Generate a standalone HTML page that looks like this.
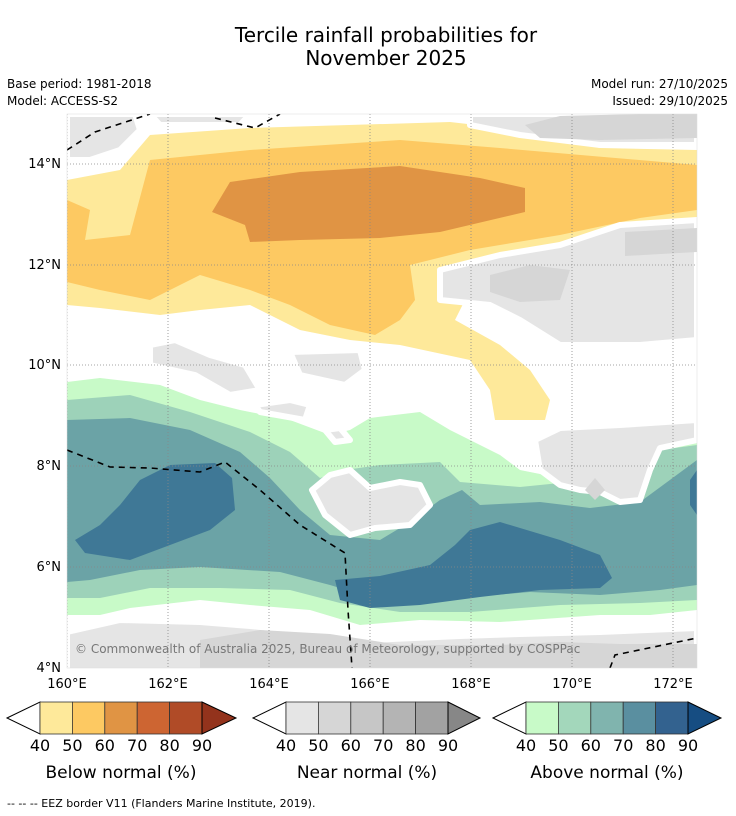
<!DOCTYPE html>
<html><head><meta charset="utf-8"><style>
body{margin:0;background:#fff;font-family:"Liberation Sans","DejaVu Sans",sans-serif}
svg{display:block}
</style></head><body>
<svg width="736" height="816" viewBox="0 0 736 816" xmlns="http://www.w3.org/2000/svg" font-family="DejaVu Sans, Liberation Sans, sans-serif">
<rect width="736" height="816" fill="#fff"/>
<text x="386" y="42" font-size="20" text-anchor="middle">Tercile rainfall probabilities for</text>
<text x="386" y="65" font-size="20" text-anchor="middle">November 2025</text>
<text x="7" y="88" font-size="12">Base period: 1981-2018</text>
<text x="7" y="105" font-size="12">Model: ACCESS-S2</text>
<text x="728" y="88" font-size="12" text-anchor="end">Model run: 27/10/2025</text>
<text x="728" y="105" font-size="12" text-anchor="end">Issued: 29/10/2025</text>
<defs><clipPath id="pc"><rect x="67" y="114" width="630" height="554"/></clipPath></defs>
<g clip-path="url(#pc)">
<!-- below normal -->
<polygon fill="#fee99a" points="67,180 120,170 150,135 250,128 450,122 520,130 600,148 697,150 697,222 640,240 600,252 560,262 510,270 470,290 455,320 500,345 530,370 550,400 545,420 495,420 490,390 470,360 400,345 350,340 300,330 250,305 200,310 160,315 100,308 67,305"/>
<polygon fill="#fdc962" points="67,200 90,210 85,240 130,235 150,160 250,150 400,140 500,148 697,165 697,210 640,218 560,235 470,250 410,265 415,300 400,320 375,335 330,325 290,305 250,290 200,275 150,300 100,290 67,282"/>
<polygon fill="#e09444" points="212,212 230,182 300,172 400,166 480,178 525,188 525,212 440,232 380,238 300,240 250,242 245,225"/>
<polygon fill="#fee99a" points="78,664 200,664 200,668 78,668"/>
<polygon fill="#fdc962" points="697,650 697,668 680,668"/>
<!-- above normal -->
<polygon fill="#c8fac8" points="67,382 100,378 160,385 200,400 240,410 290,420 330,435 350,430 370,418 420,412 450,430 470,440 500,455 520,470 560,478 620,470 640,450 697,440 697,610 650,615 600,615 500,622 420,620 360,625 310,610 250,605 200,600 130,608 100,615 67,615"/>
<polygon fill="#9dd2b9" points="67,400 130,395 190,412 250,432 290,452 320,478 345,470 380,465 440,462 460,482 520,487 570,482 620,475 660,450 697,445 697,600 640,603 560,605 470,612 400,612 340,603 290,590 220,588 150,588 100,598 67,598"/>
<polygon fill="#6ba3a6" points="67,420 130,418 190,430 240,452 270,478 300,510 330,535 380,540 410,522 440,500 462,490 480,505 540,502 590,508 640,502 697,460 697,585 660,590 600,595 530,592 460,598 380,600 330,585 280,572 200,567 140,570 90,580 67,582"/>
<polygon fill="#3f7896" points="75,540 100,525 120,505 140,480 170,465 215,463 232,478 235,510 210,530 170,545 130,560 85,553"/>
<polygon fill="#3f7896" points="335,580 380,576 430,565 455,545 470,530 500,522 560,540 600,555 612,578 600,588 540,590 480,597 420,605 370,608 340,600"/>
<polygon fill="#3f7896" points="690,480 697,470 697,515 690,505"/>
<!-- near normal -->
<g fill="#e5e5e5" stroke="#fff" stroke-width="6" stroke-linejoin="round">
<polygon points="67,114 135,114 140,130 120,150 90,160 67,160"/>
<polygon points="150,114 250,114 240,125 160,125"/>
<polygon points="470,114 697,114 697,145 600,145 520,135 470,125"/>
<polygon points="440,270 500,255 560,245 620,225 697,220 697,340 640,345 560,345 520,320 490,305 440,300"/>
<polygon points="150,345 175,340 210,355 245,365 260,390 230,395 195,375 150,365"/>
<polygon points="290,352 360,350 365,370 345,385 300,375"/>
<polygon points="255,405 290,400 310,405 305,420 260,412"/>
<polygon points="325,430 340,428 350,440 335,442"/>
<polygon points="312,490 330,475 350,470 370,488 400,482 420,485 430,505 410,525 375,528 350,535 325,515"/>
<polygon points="535,440 560,428 620,425 697,420 697,440 660,448 650,470 640,500 620,502 600,492 580,490 560,485 540,470"/>
<polygon points="67,632 120,620 200,622 250,626 310,632 370,640 460,636 520,634 600,632 697,628 697,672 67,672"/>
</g>
<g fill="#d6d6d6">
<polygon points="525,125 560,116 640,114 697,114 697,138 600,140 540,138"/>
<polygon points="625,232 697,228 697,252 625,256"/>
<polygon points="490,275 530,265 570,270 560,300 520,302 490,292"/>
<polygon points="585,490 595,478 605,490 595,500"/>
<polygon points="200,640 260,630 330,634 400,645 500,645 560,642 620,644 697,644 697,668 200,668"/>
</g>
<!-- grid -->
<g stroke="#888" stroke-width="0.8" stroke-dasharray="1,2">
<line x1="67" y1="114" x2="67" y2="668"/><line x1="168" y1="114" x2="168" y2="668"/><line x1="269" y1="114" x2="269" y2="668"/><line x1="370" y1="114" x2="370" y2="668"/><line x1="471" y1="114" x2="471" y2="668"/><line x1="572" y1="114" x2="572" y2="668"/><line x1="673" y1="114" x2="673" y2="668"/>
<line x1="67" y1="164" x2="697" y2="164"/><line x1="67" y1="265" x2="697" y2="265"/><line x1="67" y1="365" x2="697" y2="365"/><line x1="67" y1="466" x2="697" y2="466"/><line x1="67" y1="567" x2="697" y2="567"/>
</g>
<!-- EEZ -->
<g fill="none" stroke="#000" stroke-width="1.6" stroke-dasharray="6,5">
<polyline points="67,150 95,132 150,114"/>
<polyline points="215,118 255,128 280,114"/>
<polyline points="67,450 110,467 150,468 200,472 225,462 260,490 300,525 345,553 348,610 352,668"/>
<polyline points="610,668 615,655 697,638"/>
</g>
<text x="75" y="653" font-size="12" fill="#777">© Commonwealth of Australia 2025, Bureau of Meteorology, supported by COSPPac</text>
</g>
<rect x="67" y="114" width="630" height="554" fill="none" stroke="#ddd" stroke-width="0.5"/>
<g font-size="13" text-anchor="end">
<text x="61" y="168">14°N</text><text x="61" y="269">12°N</text><text x="61" y="369">10°N</text><text x="61" y="470">8°N</text><text x="61" y="571">6°N</text><text x="61" y="672">4°N</text>
</g>
<g font-size="13" text-anchor="middle">
<text x="67" y="688">160°E</text><text x="168" y="688">162°E</text><text x="269" y="688">164°E</text><text x="370" y="688">166°E</text><text x="471" y="688">168°E</text><text x="572" y="688">170°E</text><text x="673" y="688">172°E</text>
</g>
<script>
const levels=["40","50","60","70","80","90"];
const belowColors=["#fee99a","#fdc962","#e09444","#cd6532","#b04b27","#93331c"];
const nearColors=["#e5e5e5","#d6d6d6","#c6c6c6","#b4b4b4","#a2a2a2","#878787"];
const aboveColors=["#c8fac8","#a3d7bb","#80b4ae","#5a8fa0","#33628f","#164d82"];
const titles=["Below normal (%)","Near normal (%)","Above normal (%)"];
const svg=document.querySelector('svg');
const NS='http://www.w3.org/2000/svg';
const bars=[[7,40,202,236,belowColors],[253,286,448,480,nearColors],[493,526,688,721,aboveColors]];
bars.forEach((b,bi)=>{
 const [tl,x0,x1,tr,cols]=b;const y0=702,y1=734,ym=718,seg=(x1-x0)/5;
 const g=document.createElementNS(NS,'g');
 
 
 const lt=document.createElementNS(NS,'polygon');
 lt.setAttribute('points',`${tl},${ym} ${x0},${y0} ${x0},${y1}`);lt.setAttribute('fill','#fff');lt.setAttribute('stroke','#000');
 
 
 g.appendChild(lt);
 for(let i=0;i<5;i++){const r=document.createElementNS(NS,'rect');
  r.setAttribute('x',x0+i*seg);r.setAttribute('y',y0);r.setAttribute('width',seg);r.setAttribute('height',y1-y0);
  r.setAttribute('fill',cols[i]);r.setAttribute('stroke','#333');r.setAttribute('stroke-width','0.8');
  
  
  g.appendChild(r);}
 const rt=document.createElementNS(NS,'polygon');
 rt.setAttribute('points',`${x1},${y0} ${tr},${ym} ${x1},${y1}`);rt.setAttribute('fill',cols[5]);rt.setAttribute('stroke','#000');
 
 
 g.appendChild(rt);
 levels.forEach((l,i)=>{const t=document.createElementNS(NS,'text');
  t.setAttribute('x',x0+i*seg);t.setAttribute('y',751);t.setAttribute('font-size','16');t.setAttribute('text-anchor','middle');t.textContent=l;
  
  
  g.appendChild(t);});
 const tt=document.createElementNS(NS,'text');
 tt.setAttribute('x',(x0+x1)/2);tt.setAttribute('y',778);tt.setAttribute('font-size','17');tt.setAttribute('text-anchor','middle');tt.textContent=titles[bi];
 
 
 g.appendChild(tt);
 svg.appendChild(g);
});
</script>
<text x="7" y="807" font-size="11">-- -- -- EEZ border V11 (Flanders Marine Institute, 2019).</text>
</svg>
</body></html>
